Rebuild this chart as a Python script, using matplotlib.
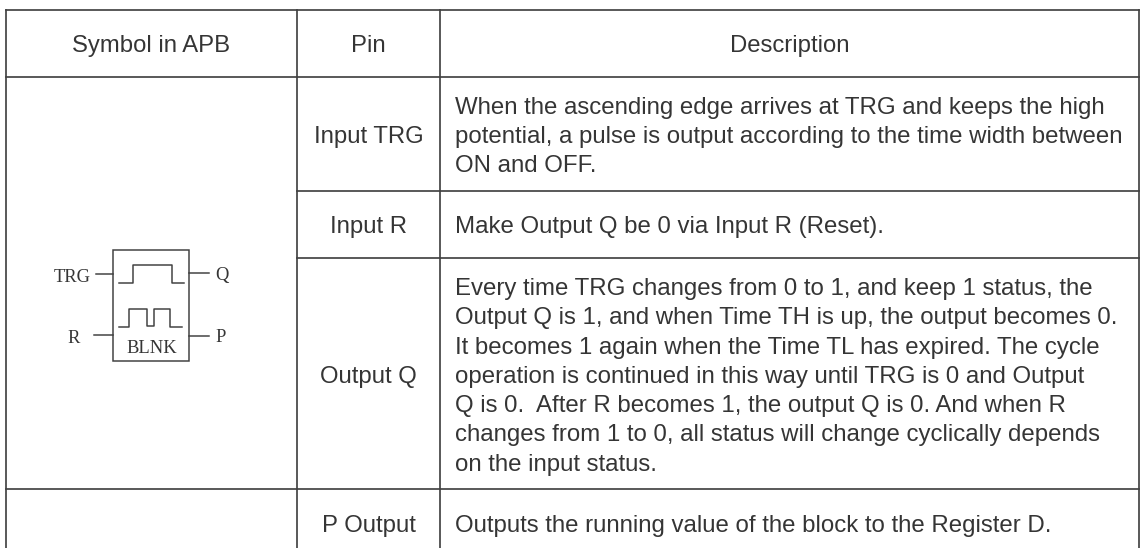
"""Recreate the APB symbol / pin / description table."""

import matplotlib.pyplot as plt
from matplotlib.patches import Rectangle

HEADERS = ['Symbol in APB', 'Pin', 'Description']
PINS = ['Input TRG', 'Input R', 'Output Q', 'P Output']
DESCRIPTIONS = [
    ['When the ascending edge arrives at TRG and keeps the high',
     'potential, a pulse is output according to the time width between',
     'ON and OFF.'],
    ['Make Output Q be 0 via Input R (Reset).'],
    ['Every time TRG changes from 0 to 1, and keep 1 status, the',
     'Output Q is 1, and when Time TH is up, the output becomes 0.',
     'It becomes 1 again when the Time TL has expired. The cycle',
     'operation is continued in this way until TRG is 0 and Output',
     'Q is 0.  After R becomes 1, the output Q is 0. And when R',
     'changes from 1 to 0, all status will change cyclically depends',
     'on the input status.'],
    ['Outputs the running value of the block to the Register D.'],
]

TEXT_COLOR = '#353535'
LINE_COLOR = '#404040'
SANS = 'Liberation Sans'
SERIF = 'Liberation Serif'
TEXT_SIZE = 23.9
DESC_SIZE = 24.0

COLS = [6, 297, 440, 1139]
ROWS = [10, 77, 191, 258, 489, 548]
HEADER_BASE = 52
PIN_BASE = [143, 233, 383, 532]
DESC_BASE = [114, 233, 295, 532]
DESC_STEP = [28.8, 0, 29.3, 0]

SYMBOL_LABELS = ['TRG', 'R', 'Q', 'P', 'BLNK']
SYMBOL_LABEL_X = [72.5, 74, 222, 221, 152]
SYMBOL_LABEL_BASE = [282, 343, 280, 342, 353]


def main():
    # 72 dpi so that one point is one pixel
    fig = plt.figure(figsize=(1141 / 72, 548 / 72), dpi=72)
    ax = fig.add_axes([0, 0, 1, 1])
    ax.set_xlim(0, 1141)
    ax.set_ylim(548, 0)
    ax.axis('off')

    # Grid of the table
    for x in COLS:
        ax.plot([x, x], [ROWS[0], ROWS[-1]], color=LINE_COLOR, lw=1.7,
                solid_capstyle='projecting')
    for y in [ROWS[0], ROWS[1], ROWS[4]]:
        ax.plot([COLS[0], COLS[3]], [y, y], color=LINE_COLOR, lw=1.7)
    for y in ROWS[2:4]:
        ax.plot([COLS[1], COLS[3]], [y, y], color=LINE_COLOR, lw=1.7)

    # Header
    for i, header in enumerate(HEADERS):
        ax.text((COLS[i] + COLS[i + 1]) / 2, HEADER_BASE, header, ha='center',
                va='baseline', family=SANS, fontsize=TEXT_SIZE,
                color=TEXT_COLOR)

    # Pin and description columns
    for i, pin in enumerate(PINS):
        ax.text((COLS[1] + COLS[2]) / 2, PIN_BASE[i], pin, ha='center',
                va='baseline', family=SANS, fontsize=TEXT_SIZE,
                color=TEXT_COLOR)
        for j, line in enumerate(DESCRIPTIONS[i]):
            ax.text(455, DESC_BASE[i] + j * DESC_STEP[i], line, ha='left',
                    va='baseline', family=SANS, fontsize=DESC_SIZE,
                    color=TEXT_COLOR)

    # BLNK block symbol
    ax.add_patch(Rectangle((113, 250), 76, 111, fill=False,
                           edgecolor=LINE_COLOR, lw=1.5))
    ax.plot([96, 113], [274, 274], color=LINE_COLOR, lw=1.5)
    ax.plot([94, 113], [335, 335], color=LINE_COLOR, lw=1.5)
    ax.plot([189, 209], [273, 273], color=LINE_COLOR, lw=1.5)
    ax.plot([189, 209], [336, 336], color=LINE_COLOR, lw=1.5)
    ax.plot([119, 133, 133, 172, 172, 184], [283, 283, 265, 265, 283, 283],
            color=LINE_COLOR, lw=1.5)
    ax.plot([119, 129, 129, 147, 147, 154, 154, 170, 170, 182],
            [327, 327, 309, 309, 326, 326, 309, 309, 327, 327],
            color=LINE_COLOR, lw=1.5)
    for x, y, label in zip(SYMBOL_LABEL_X, SYMBOL_LABEL_BASE, SYMBOL_LABELS):
        ax.text(x, y, label, ha='center', va='baseline', family=SERIF,
                fontsize=18.5, color=TEXT_COLOR)

    fig.savefig('out.png', dpi=72)


if __name__ == '__main__':
    main()
